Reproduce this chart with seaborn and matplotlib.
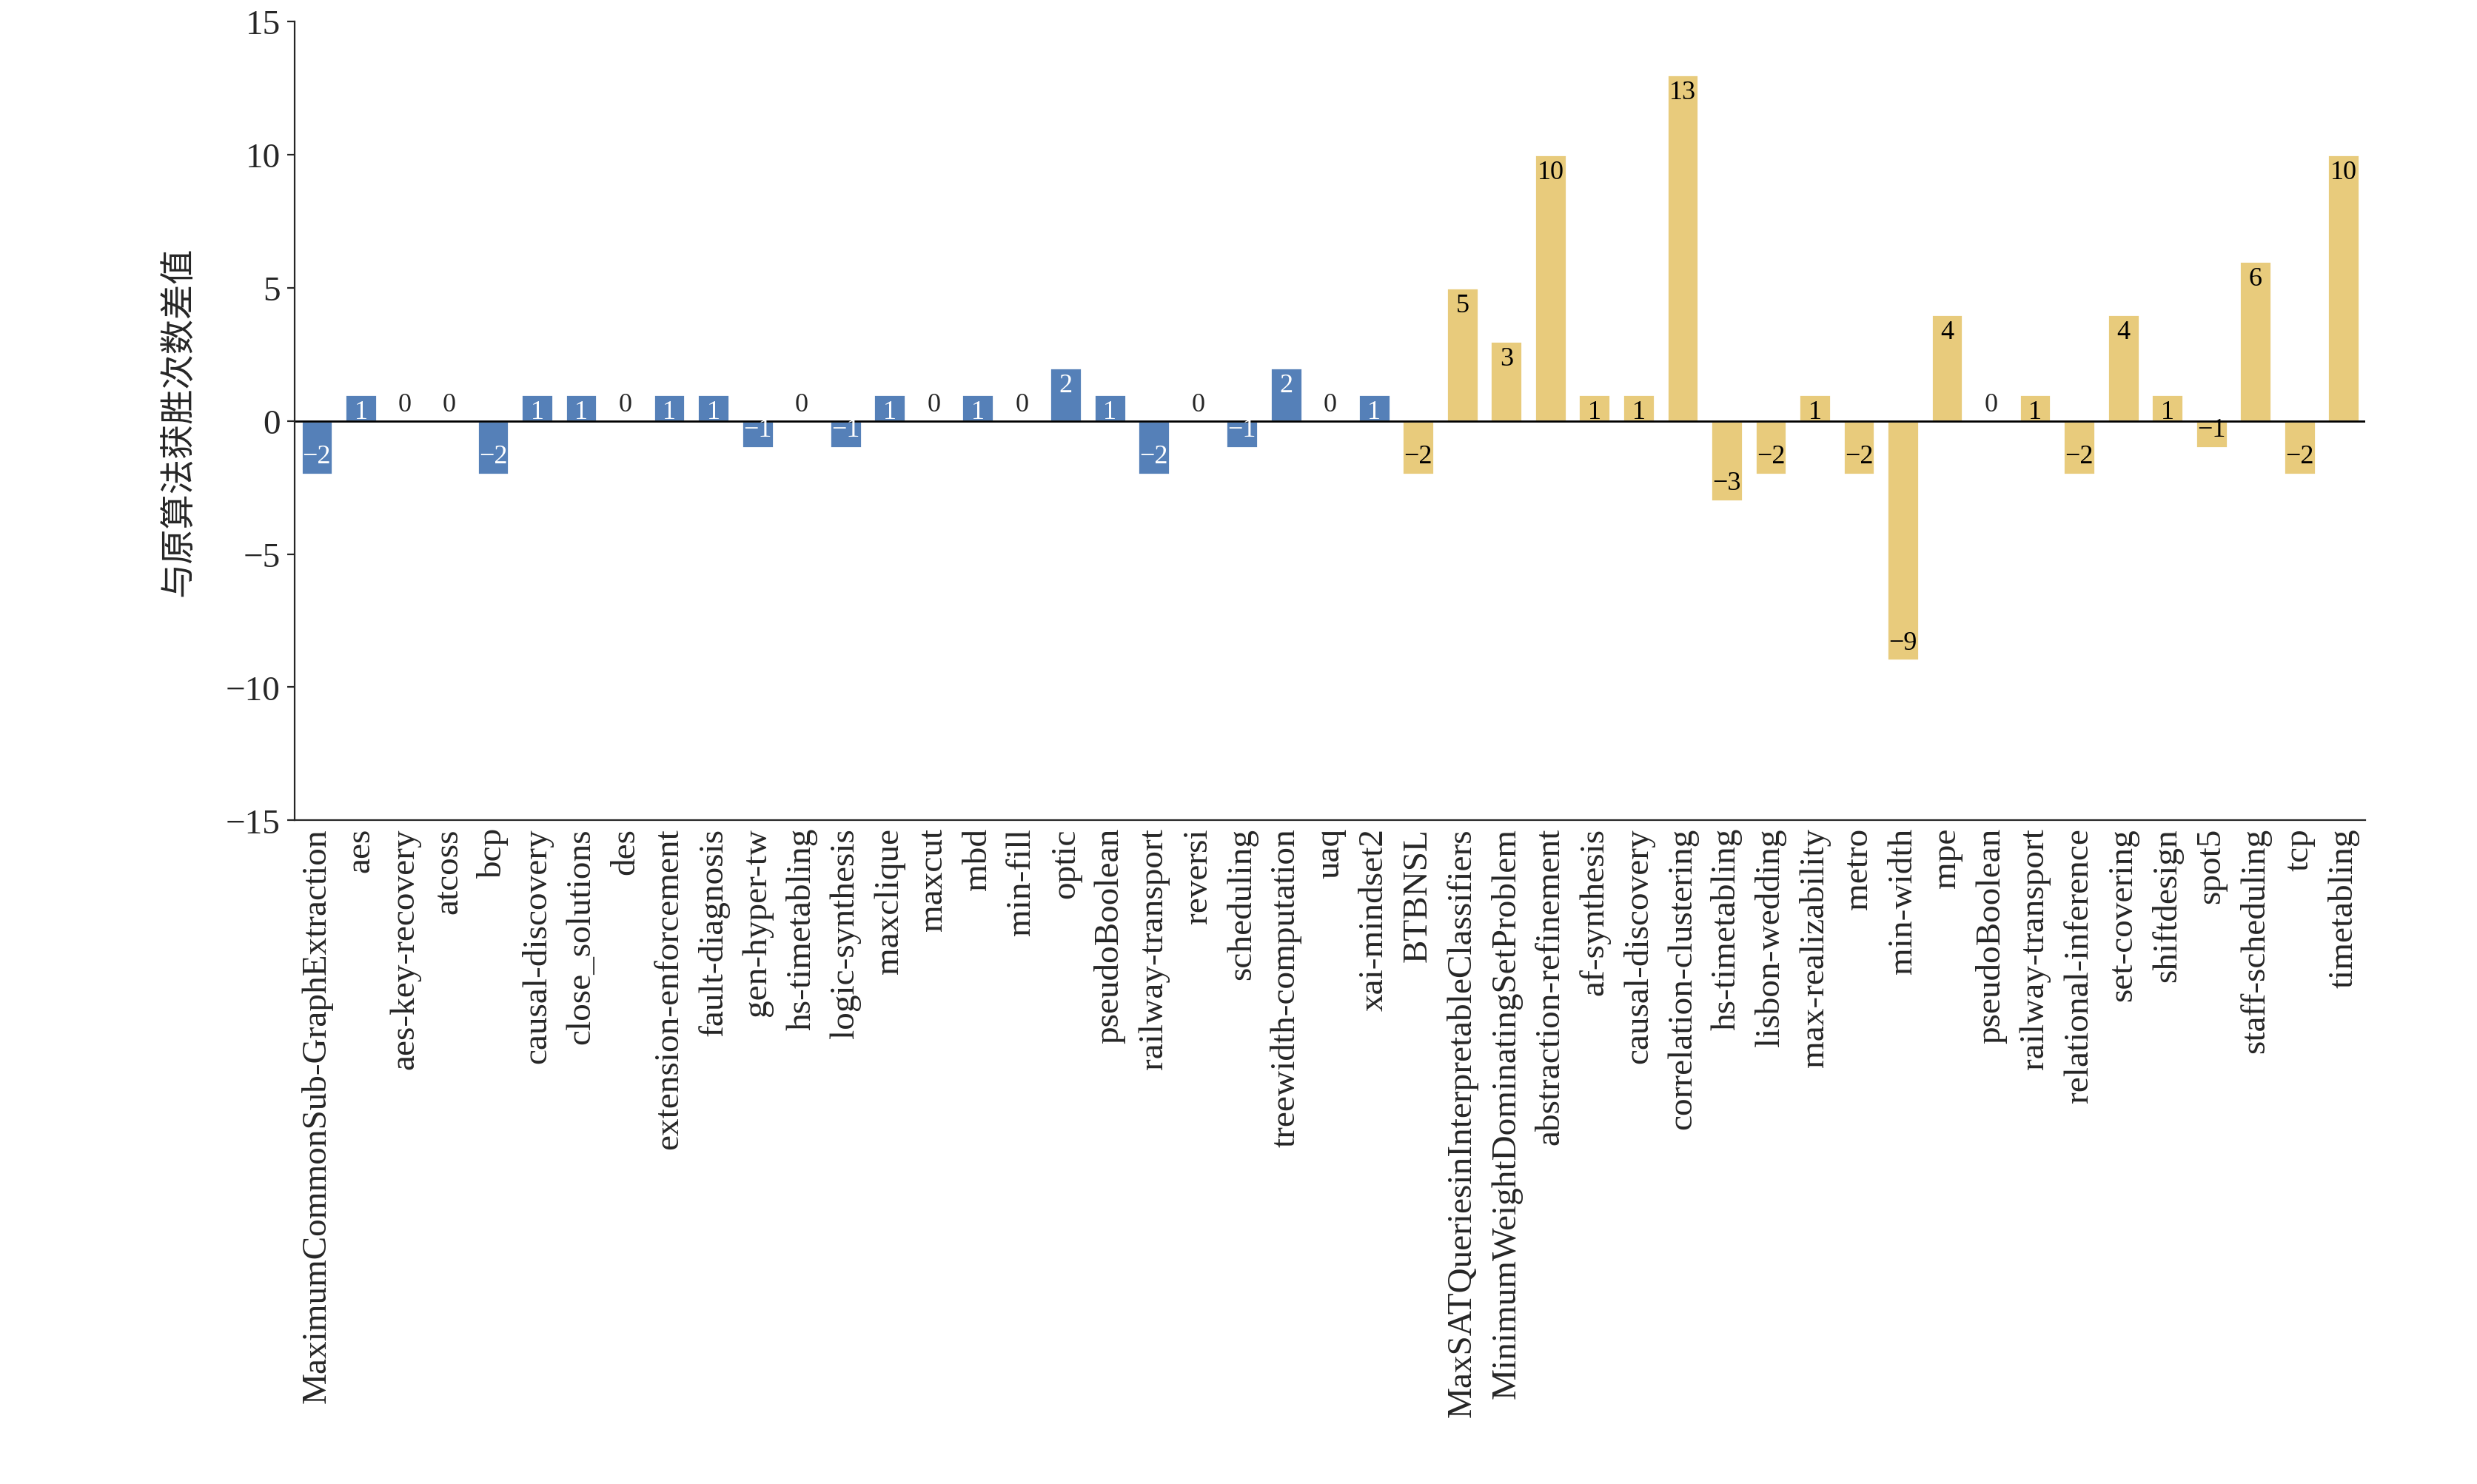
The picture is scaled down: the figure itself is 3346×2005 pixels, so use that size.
import numpy as np
import pandas as pd
import matplotlib.pyplot as plt
import seaborn as sns

sns.set_style('ticks')
plt.rcParams['font.family'] = ['Liberation Serif', 'Noto Sans CJK SC']
plt.rcParams['axes.unicode_minus'] = True

blue_names = ['MaximumCommonSub-GraphExtraction', 'aes', 'aes-key-recovery', 'atcoss', 'bcp',
              'causal-discovery', 'close_solutions', 'des', 'extension-enforcement', 'fault-diagnosis',
              'gen-hyper-tw', 'hs-timetabling', 'logic-synthesis', 'maxclique', 'maxcut', 'mbd',
              'min-fill', 'optic', 'pseudoBoolean', 'railway-transport', 'reversi', 'scheduling',
              'treewidth-computation', 'uaq', 'xai-mindset2']
blue_vals = [-2, 1, 0, 0, -2, 1, 1, 0, 1, 1, -1, 0, -1, 1, 0, 1, 0, 2, 1, -2, 0, -1, 2, 0, 1]

yellow_names = ['BTBNSL', 'MaxSATQueriesinInterpretableClassifiers', 'MinimumWeightDominatingSetProblem',
                'abstraction-refinement', 'af-synthesis', 'causal-discovery', 'correlation-clustering',
                'hs-timetabling', 'lisbon-wedding', 'max-realizability', 'metro', 'min-width', 'mpe',
                'pseudoBoolean', 'railway-transport', 'relational-inference', 'set-covering',
                'shiftdesign', 'spot5', 'staff-scheduling', 'tcp', 'timetabling']
yellow_vals = [-2, 5, 3, 10, 1, 1, 13, -3, -2, 1, -2, -9, 4, 0, 1, -2, 4, 1, -1, 6, -2, 10]

names = blue_names + yellow_names
vals = blue_vals + yellow_vals
groups = ['a'] * len(blue_names) + ['b'] * len(yellow_names)
keys = [f'{i}_{n}' for i, n in enumerate(names)]
df = pd.DataFrame({'key': keys, 'value': vals, 'group': groups})

fig = plt.figure(figsize=(16.73, 10.03), dpi=200)
ax = fig.add_axes([0.119, 0.447, 0.836, 0.538])
sns.barplot(data=df, x='key', y='value', hue='group', dodge=False, legend=False,
            palette={'a': '#5580b8', 'b': '#e8cb7c'}, width=0.72, ax=ax, saturation=1)

for i, v in enumerate(vals):
    s = str(v).replace('-', '\u2212')
    col = 'white' if groups[i] == 'a' else 'black'
    if v > 0:
        ax.text(i, v - 0.2, s, ha='center', va='top', fontsize=13, color=col)
    elif v < 0:
        ax.text(i, v + 0.2, s, ha='center', va='bottom', fontsize=13, color=col)
    else:
        ax.text(i, 0.15, s, ha='center', va='bottom', fontsize=13)

ax.axhline(0, color='black', lw=1)
ax.set_ylim(-15, 15)
ax.set_yticks(range(-15, 16, 5))
ax.set_xlim(-0.5, len(vals) - 0.5)
ax.set_xticks(range(len(vals)))
ax.set_xticklabels(names, rotation=90, fontsize=17)
ax.tick_params(axis='x', length=0)
ax.tick_params(axis='y', labelsize=17, direction='out')
ax.yaxis.set_major_formatter(plt.FuncFormatter(lambda x, p: f'{int(x)}'.replace('-', '\u2212')))
ax.set_xlabel('')
ax.set_ylabel('与原算法获胜次数差值', fontsize=17, family=['Noto Sans CJK SC'], labelpad=14)
sns.despine(ax=ax)
fig.savefig('out.png')
